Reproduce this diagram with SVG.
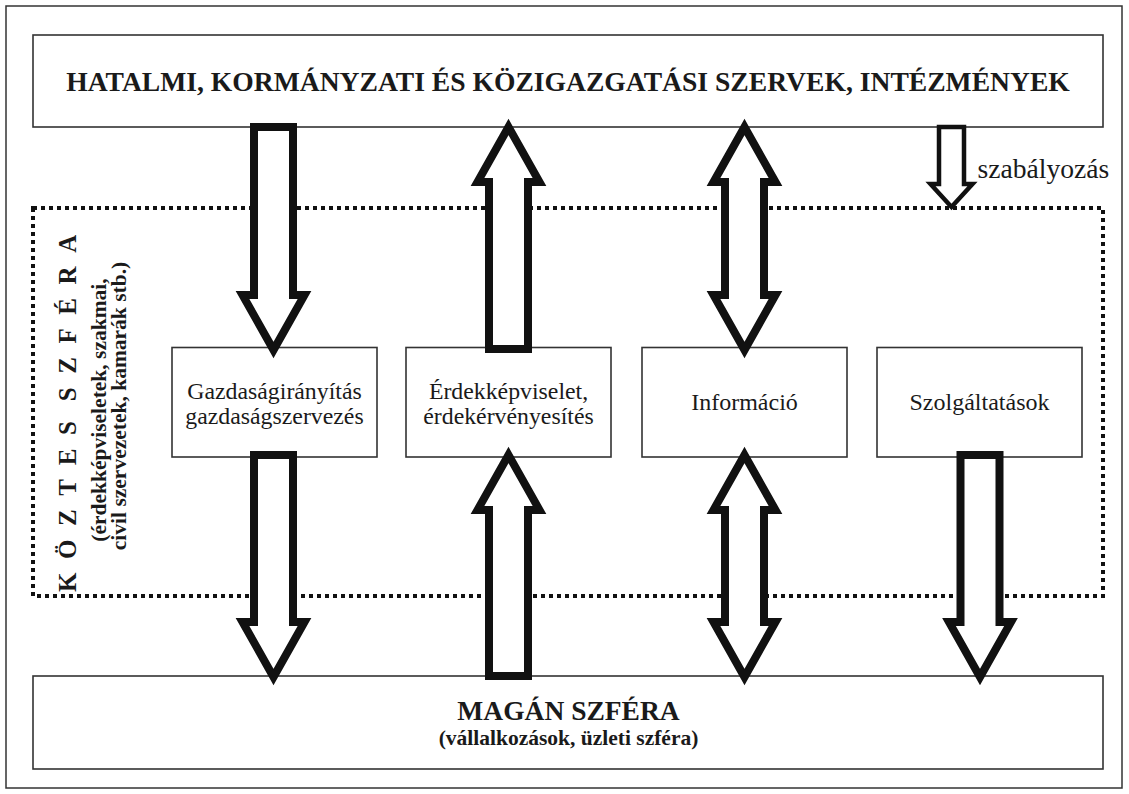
<svg xmlns="http://www.w3.org/2000/svg" width="1129" height="794" viewBox="0 0 1129 794">
<style>
.box{fill:#fff;stroke:#333;stroke-width:1.6}
.arrow{fill:#fff;stroke:#111;stroke-width:8;stroke-linejoin:miter;stroke-miterlimit:10}
.small{fill:#fff;stroke:#111;stroke-width:4.5;stroke-linejoin:miter;stroke-miterlimit:10}
.t{font-family:"Liberation Serif","Times New Roman",serif;fill:#1a1a1a}
.b{font-weight:bold}
.c{text-anchor:middle}
</style>
<rect width="1129" height="794" fill="#fff"/>
<rect x="6" y="6" width="1116" height="782" fill="none" stroke="#333" stroke-width="1.5"/>
<g id="kozteszfera">
<rect x="33" y="208" width="1070" height="388" fill="none" stroke="#111" stroke-width="4" stroke-dasharray="4 4"/>
<text class="t b" font-size="25" letter-spacing="13.6" transform="translate(75.5,592) rotate(-90)">KÖZTES<tspan letter-spacing="0"> </tspan>SZFÉRA</text>
<text class="t b c" font-size="21.5" transform="translate(106,410) rotate(-90)">(érdekképviseletek, szakmai,</text>
<text class="t b c" font-size="21.5" transform="translate(126,406) rotate(-90)">civil szervezetek, kamarák stb.)</text>
</g>
<g id="hatalmi">
<rect class="box" x="33" y="35" width="1070" height="92"/>
<text class="t b c" font-size="27.6" x="568" y="91">HATALMI, KORMÁNYZATI ÉS KÖZIGAZGATÁSI SZERVEK, INTÉZMÉNYEK</text>
</g>
<g id="magan">
<rect class="box" x="33" y="676" width="1070" height="93"/>
<text class="t b c" font-size="27.5" x="568.5" y="720">MAGÁN SZFÉRA</text>
<text class="t b c" font-size="21.5" x="568.5" y="745">(vállalkozások, üzleti szféra)</text>
</g>
<g id="gazdasag">
<rect class="box" x="172" y="347.5" width="205" height="109.5"/>
<text class="t c" font-size="23.8" x="274.5" y="399">Gazdaságirányítás</text>
<text class="t c" font-size="23.8" x="274.5" y="424">gazdaságszervezés</text>
</g>
<g id="erdek">
<rect class="box" x="406" y="347.5" width="205" height="109.5"/>
<text class="t c" font-size="23.8" x="508.5" y="399">Érdekképviselet,</text>
<text class="t c" font-size="23.8" x="508.5" y="424">érdekérvényesítés</text>
</g>
<g id="informacio">
<rect class="box" x="642" y="347.5" width="205" height="109.5"/>
<text class="t c" font-size="24" x="744.5" y="410">Információ</text>
</g>
<g id="szolgaltatasok">
<rect class="box" x="877" y="347.5" width="205" height="109.5"/>
<text class="t c" font-size="24" x="979.5" y="410">Szolgáltatások</text>
</g>
<g id="connectors">
<polygon class="arrow" points="254,127 293,127 293,295 304.5,295 273.5,350 242.5,295 254,295"/>
<polygon class="arrow" points="508.5,127 539.5,182 528,182 528,349 489,349 489,182 477.5,182"/>
<polygon class="arrow" points="744.5,127 775.5,182 764,182 764,295 775.5,295 744.5,350 713.5,295 725,295 725,182 713.5,182"/>
<polygon class="arrow" points="254,455 293,455 293,622 304.5,622 273.5,677 242.5,622 254,622"/>
<polygon class="arrow" points="508.5,455 539.5,510 528,510 528,676 489,676 489,510 477.5,510"/>
<polygon class="arrow" points="744.5,455 775.5,510 764,510 764,622 775.5,622 744.5,677 713.5,622 725,622 725,510 713.5,510"/>
<polygon class="arrow" points="960.5,455 999.5,455 999.5,622 1011,622 980,677 949,622 960.5,622"/>
<polygon class="small" points="939,127 964,127 964,184 972.5,184 951.5,207 930.5,184 939,184"/>
<text class="t" font-size="27.6" x="977.5" y="178">szabályozás</text>
</g>
</svg>
